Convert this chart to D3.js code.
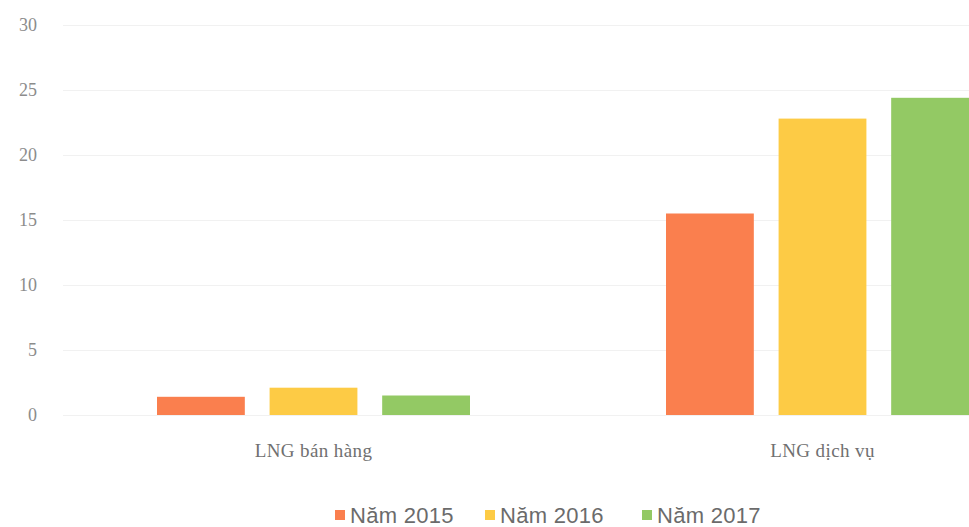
<!DOCTYPE html>
<html>
<head>
<meta charset="utf-8">
<script src="https://cdn.jsdelivr.net/npm/d3@7"></script>
<style>
	body { margin: 0; background: #fff; }
	svg { display: block; }
</style>
</head>
<body>
<div id="chart"></div>
<script>
var categories = ['LNG bán hàng', 'LNG dịch vụ'];
var seriesNames = ['Năm 2015', 'Năm 2016', 'Năm 2017'];
var values2015 = [1.4, 15.5];
var values2016 = [2.1, 22.8];
var values2017 = [1.5, 24.4];
var yTicks = [0, 5, 10, 15, 20, 25, 30];

var colors = ['#fa7f4e', '#fdcb45', '#93c964'];

var width = 969;
var height = 527;

var svg = d3.select('#chart')
	.append('svg')
	.attr('width', width)
	.attr('height', height);

var dataset = categories.map(function(c, i) {
	return {
		category: c,
		values: [values2015[i], values2016[i], values2017[i]]
	};
});

// plot runs past the right edge, the source picture is cropped
var x0 = d3.scaleBand()
	.domain(categories)
	.range([59, 1077]);

var x1 = d3.scaleBand()
	.domain(seriesNames)
	.range([98, 411])
	.paddingInner(0.22);

var y = d3.scaleLinear()
	.domain([0, 30])
	.range([415, 25]);

// grid lines
svg.append('g')
	.selectAll('line')
	.data(yTicks)
	.enter()
	.append('line')
	.attr('x1', 63)
	.attr('x2', width)
	.attr('y1', function(d) { return y(d) + 0.5; })
	.attr('y2', function(d) { return y(d) + 0.5; })
	.attr('stroke', '#f1f1f1')
	.attr('stroke-width', 1);

var yAxis = svg.append('g')
	.attr('transform', 'translate(39,0)')
	.call(d3.axisLeft(y).tickValues(yTicks).tickSize(0).tickPadding(2));

yAxis.select('.domain').remove();
yAxis.selectAll('text')
	.attr('fill', '#8c8c8c')
	.style('font-family', '"Liberation Serif", serif')
	.style('font-size', '18px');

var groups = svg.selectAll('.group')
	.data(dataset)
	.enter()
	.append('g')
	.attr('class', 'group')
	.attr('transform', function(d) { return 'translate(' + x0(d.category) + ',0)'; });

groups.selectAll('rect')
	.data(function(d) {
		return d.values.map(function(v, i) { return {name: seriesNames[i], value: v}; });
	})
	.enter()
	.append('rect')
	.attr('x', function(d) { return x1(d.name); })
	.attr('y', function(d) { return y(d.value); })
	.attr('width', x1.bandwidth())
	.attr('height', function(d) { return y(0) - y(d.value); })
	.attr('fill', function(d, i) { return colors[i]; });

// category labels
var xAxis = svg.append('g')
	.attr('transform', 'translate(0,' + 443 + ')')
	.call(d3.axisBottom(x0).tickSize(0).tickPadding(0));

xAxis.select('.domain').remove();
xAxis.selectAll('text')
	.attr('fill', '#707070')
	.style('font-family', '"Liberation Serif", serif')
	.style('font-size', '19px')
	.style('letter-spacing', '0.4px');

// legend
var legendX = [335, 485, 642];
var legend = svg.selectAll('.legend')
	.data(seriesNames)
	.enter()
	.append('g')
	.attr('class', 'legend')
	.attr('transform', function(d, i) { return 'translate(' + legendX[i] + ',515)'; });

legend.append('rect')
	.attr('x', 0)
	.attr('y', -5)
	.attr('width', 10)
	.attr('height', 10)
	.attr('fill', function(d, i) { return colors[i]; });

legend.append('text')
	.attr('x', 15)
	.attr('y', 0)
	.attr('dy', '0.35em')
	.attr('fill', '#6b6b6b')
	.style('font-family', '"Liberation Sans", Arial, sans-serif')
	.style('font-size', '22px')
	.style('letter-spacing', '0.3px')
	.text(function(d) { return d; });
</script>
</body>
</html>
